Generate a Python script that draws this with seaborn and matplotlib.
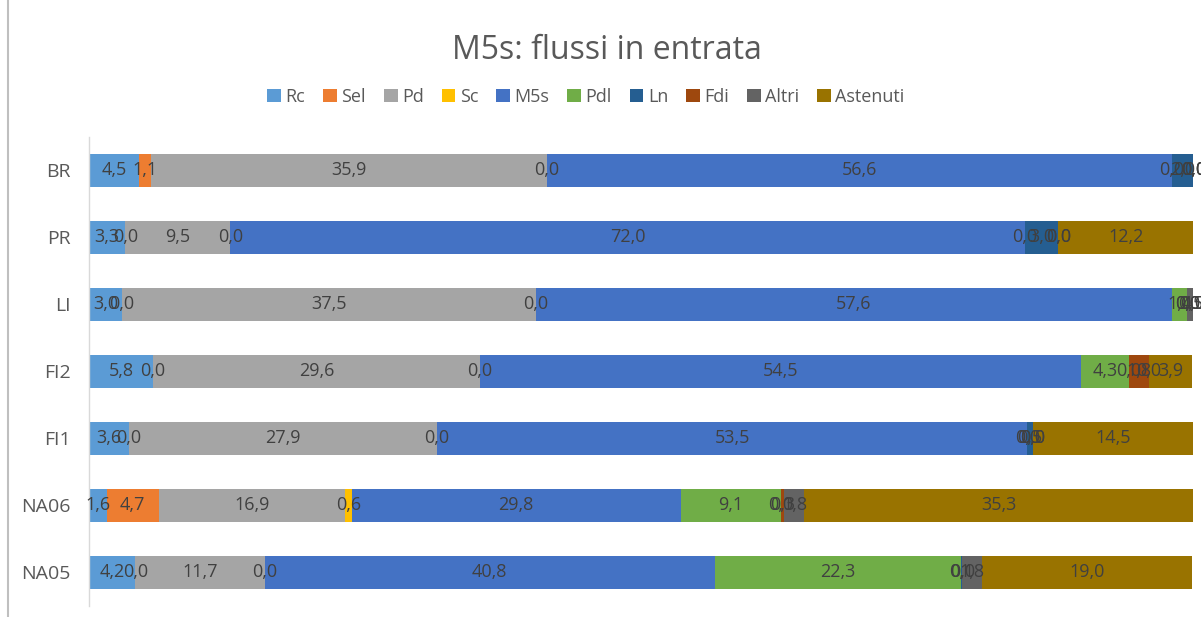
import numpy as np
import pandas as pd
import matplotlib
matplotlib.use("Agg")
import matplotlib.pyplot as plt
import seaborn as sns
from matplotlib.patches import Patch

# data (percent of entering flows)
categories = ["BR", "PR", "LI", "FI2", "FI1", "NA06", "NA05"]
series = ["Rc", "Sel", "Pd", "Sc", "M5s", "Pdl", "Ln", "Fdi", "Altri", "Astenuti"]
Rc = [4.5, 3.3, 3.0, 5.8, 3.6, 1.6, 4.2]
Sel = [1.1, 0.0, 0.0, 0.0, 0.0, 4.7, 0.0]
Pd = [35.9, 9.5, 37.5, 29.6, 27.9, 16.9, 11.7]
Sc = [0.0, 0.0, 0.0, 0.0, 0.0, 0.6, 0.0]
M5s = [56.6, 72.0, 57.6, 54.5, 53.5, 29.8, 40.8]
Pdl = [0.0, 0.0, 1.4, 4.3, 0.0, 9.1, 22.3]
Ln = [2.0, 3.0, 0.0, 0.0, 0.5, 0.0, 0.1]
Fdi = [0.0, 0.0, 0.0, 1.8, 0.0, 0.3, 0.0]
Altri = [0.0, 0.0, 0.5, 0.0, 0.0, 1.8, 1.8]
Astenuti = [0.0, 12.2, 0.0, 3.9, 14.5, 35.3, 19.0]

colors = ["#5B9BD5", "#ED7D31", "#A5A5A5", "#FFC000", "#4472C4",
          "#70AD47", "#255E91", "#9E480E", "#636363", "#997300"]

df = pd.DataFrame({"Rc": Rc, "Sel": Sel, "Pd": Pd, "Sc": Sc, "M5s": M5s,
                   "Pdl": Pdl, "Ln": Ln, "Fdi": Fdi, "Altri": Altri,
                   "Astenuti": Astenuti}, index=categories)
cum = df.cumsum(axis=1)

sns.set_theme(style="white")
plt.rcParams["font.family"] = ["Open Sans", "DejaVu Sans"]

fig = plt.figure(figsize=(12.01, 6.17), dpi=100)
ax = fig.add_axes([0.0741, 0.018, 0.9192, 0.760])

# stacked bars: draw cumulative totals from the last series back to the first
for s, c in reversed(list(zip(series, colors))):
    sns.barplot(x=cum[s].values, y=categories, orient="h", color=c,
                width=0.5, linewidth=0, saturation=1, ax=ax)

# centered data labels
for s in series:
    for i, cat in enumerate(categories):
        v = df.loc[cat, s]
        xc = cum.loc[cat, s] - v / 2
        ax.text(xc, i, f"{v:.1f}".replace(".", ","), ha="center", va="center",
                fontsize=13, color="#404040")

ax.set_xlim(0, 100)
ax.set_ylim(6.5, -0.5)
ax.set_xticks([])
ax.set_xlabel("")
ax.set_ylabel("")
ax.tick_params(axis="y", length=0, labelsize=14, labelcolor="#595959", pad=13)
for sp in ["top", "right", "bottom"]:
    ax.spines[sp].set_visible(False)
ax.spines["left"].set_color("#D9D9D9")
ax.spines["left"].set_linewidth(1)

fig.text(0.505, 0.918, "M5s: flussi in entrata", ha="center", va="center",
         fontsize=23, color="#595959")

handles = [Patch(facecolor=c, edgecolor="none") for c in colors]
fig.legend(handles, series, loc="center", bbox_to_anchor=(0.488, 0.843), ncol=10,
           frameon=False, fontsize=13, handlelength=0.75, handleheight=0.75,
           handletextpad=0.25, columnspacing=1.0, labelcolor="#595959")

# thin frame line at the far left like the original screenshot
fig.add_artist(plt.Line2D([0.007, 0.007], [0.0, 1.0], color="#BFBFBF", lw=1.5))

fig.savefig("out.png", dpi=100)
